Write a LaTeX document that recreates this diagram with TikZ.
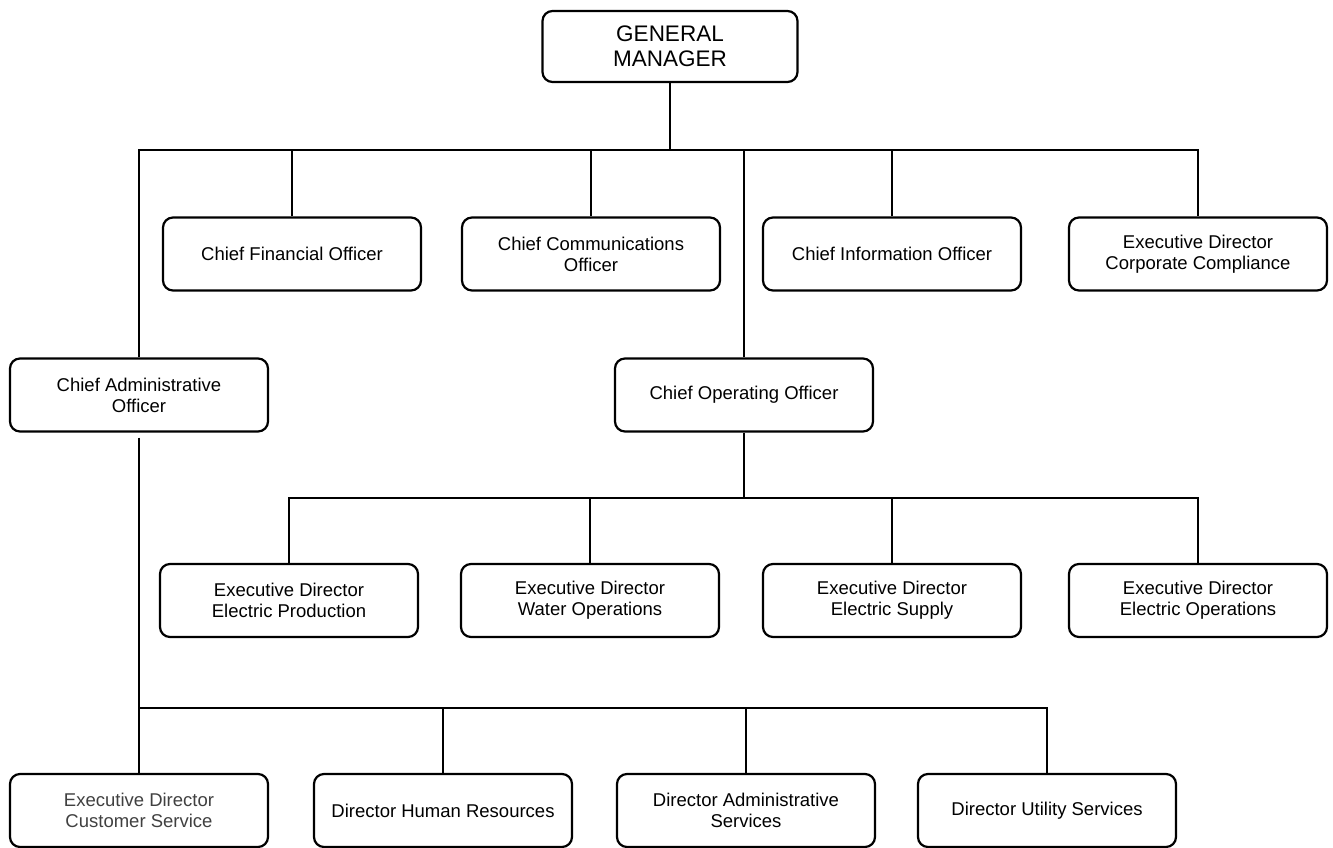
\documentclass[tikz,border=0pt]{standalone}
\usepackage{fontspec}
\setmainfont{Liberation Sans}
\usetikzlibrary{positioning}

\begin{document}
\begin{tikzpicture}[
      x=1pt, y=-1pt,
      post/.style={rectangle,draw=black,line width=2.2pt,rounded corners=10pt,
                   minimum width=258pt,minimum height=73pt,align=center,
                   font=\fontsize{18.5}{21}\selectfont},
      link/.style={line width=2.4pt,black}
    ]
    \useasboundingbox (0,0) rectangle (1333,848);

    \node[post,minimum width=255pt,minimum height=71pt,
          font=\fontsize{22.5}{25.5}\selectfont] (gm) at (670,46.5) {GENERAL\\MANAGER};

    \node[post] (cfo)  at (292,254) {Chief Financial Officer};
    \node[post] (cco)  at (591,254) {Chief Communications\\Officer};
    \node[post] (cio)  at (892,254) {Chief Information Officer};
    \node[post] (edcc) at (1198,254) {Executive Director\\Corporate Compliance};

    \node[post] (cao)  at (139,395) {Chief Administrative\\Officer};
    \node[post] (coo)  at (744,395) {Chief Operating Officer};

    \node[post] (edep) at (289,600.5) {Executive Director\\Electric Production};
    \node[post] (edwo) at (590,600.5) {Executive Director\\Water Operations};
    \node[post] (edes) at (892,600.5) {Executive Director\\Electric Supply};
    \node[post] (edeo) at (1198,600.5) {Executive Director\\Electric Operations};

    \node[post,text=black!75] (edcs) at (139,810.5) {Executive Director\\Customer Service};
    \node[post] (dhr)  at (443,810.5) {Director Human Resources};
    \node[post] (das)  at (746,810.5) {Director Administrative\\Services};
    \node[post] (dus)  at (1047,810.5) {Director Utility Services};

    \coordinate (topbar) at (670,150);
    \coordinate (opsbar) at (744,498);
    \coordinate (admbar) at (139,708);

    % general manager
    \draw[link] (gm) -- (topbar);
    \draw[link] (cao.north) |- (topbar) -| (edcc.north);
    \foreach \n in {cfo,cco,coo,cio}
      \draw[link] (\n.north) -- (\n.north |- topbar);

    % operations
    \draw[link] (coo.south) -- (opsbar);
    \draw[link] (edep.north) |- (opsbar) -| (edeo.north);
    \foreach \n in {edwo,edes}
      \draw[link] (\n.north) -- (\n.north |- opsbar);

    % administration
    \draw[link,shorten <=5pt] (cao.south) -- (edcs.north);
    \draw[link] (admbar) -| (dus.north);
    \foreach \n in {dhr,das}
      \draw[link] (\n.north) -- (\n.north |- admbar);

  \end{tikzpicture}
\end{document}
